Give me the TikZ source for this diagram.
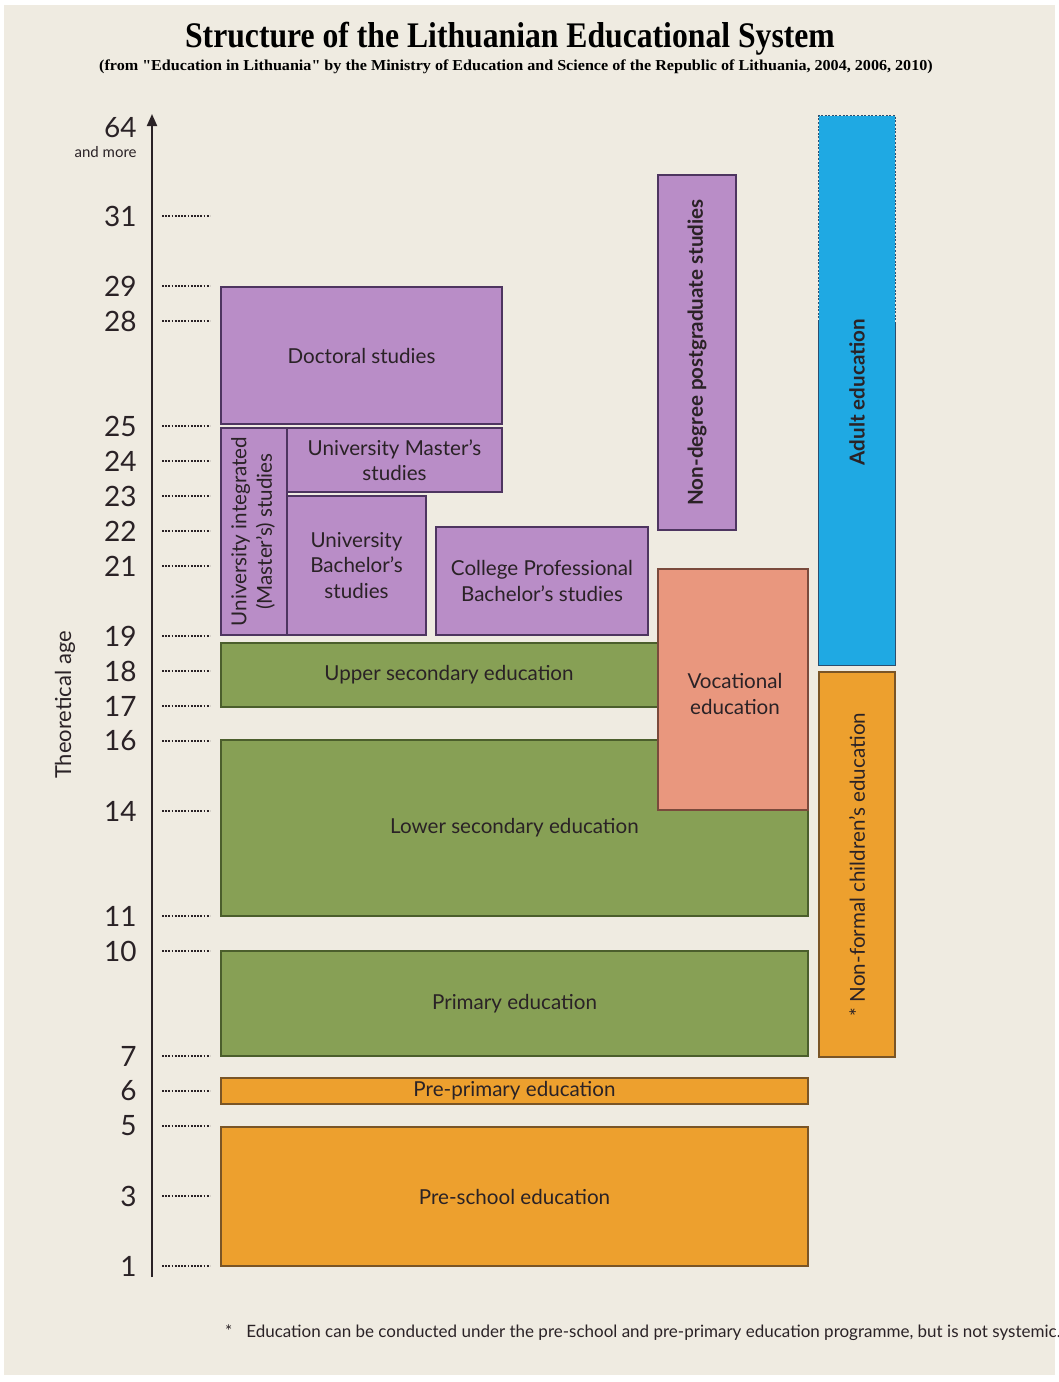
\documentclass[tikz,border=0pt]{standalone}
\usepackage{fontspec}
\usepackage{graphicx}
\setmainfont{Lato}
\newfontfamily\titlefont{Liberation Serif}
\usetikzlibrary{arrows.meta}

\definecolor{bgbeige}{HTML}{EFEBE1}
\definecolor{purp}{HTML}{B98DC7}
\definecolor{purpdark}{HTML}{4E3560}
\definecolor{grn}{HTML}{87A055}
\definecolor{grndark}{HTML}{4B5E2C}
\definecolor{salm}{HTML}{E9977E}
\definecolor{salmdark}{HTML}{7A4A3C}
\definecolor{orng}{HTML}{EDA02E}
\definecolor{orngdark}{HTML}{7A5526}
\definecolor{sky}{HTML}{1FA9E3}
\definecolor{skydark}{HTML}{2C4E6E}
\definecolor{ink}{HTML}{2A2226}

\tikzset{
  box/.style={draw, line width=0.8pt, inner sep=0pt, align=center,
    font=\fontsize{10.3}{12.7}\selectfont, text=ink},
  purpbox/.style={box, fill=purp, draw=purpdark},
  grnbox/.style={box, fill=grn, draw=grndark},
  salmbox/.style={box, fill=salm, draw=salmdark},
  orngbox/.style={box, fill=orng, draw=orngdark},
  agelbl/.style={anchor=east, inner sep=0pt, text=ink, font=\fontsize{14}{14}\selectfont},
  tick/.style={ink, line width=0.6pt, dash pattern=on 0.9pt off 0.7pt},
}

\begin{document}
\begin{tikzpicture}[x=0.5pt,y=-0.5pt]
\useasboundingbox (0,0) rectangle (1059,1382);
\fill[bgbeige] (4,5) rectangle (1055,1375);

% title
\node[font=\titlefont\bfseries\fontsize{18}{21}\selectfont, text=black] (title) at (510,39)
  {\scalebox{0.88}[1]{Structure of the Lithuanian Educational System}};
\node[font=\titlefont\bfseries\fontsize{7.6}{9}\selectfont, text=black] (subtitle) at (516,67)
  {\scalebox{1.06}[1]{(from "Education in Lithuania" by the Ministry of Education and Science of the Republic of Lithuania, 2004, 2006, 2010)}};

% age axis
\coordinate (axbot) at (152,1277);
\coordinate (axtop) at (152,114);
\draw[ink, line width=1pt, -{Triangle[length=6pt,width=5pt]}] (axbot) -- (axtop);
\node[agelbl] (age64) at (137,128) {64};
\node[anchor=east, inner sep=0pt, text=ink, font=\fontsize{7.5}{7.5}\selectfont] (andmore) at (137,152) {and more};
\foreach \a in {31,29,28,25,24,23,22,21,19,18,17,16,14,11,10,7,6,5,3,1} {
  \pgfmathsetmacro{\yy}{1266-35*(\a-1)}
  \node[agelbl] (age\a) at (137,\yy) {\a};
  \draw[tick] (162,\yy) -- (210,\yy);
}
\node[rotate=90, text=ink, font=\fontsize{11}{12}\selectfont] (theor) at (65,705) {Theoretical age};

% higher education
\node[purpbox, minimum width=140.5pt, minimum height=68.5pt] (doc) at (361.5,355.5) {Doctoral studies};
\node[purpbox, minimum width=33pt, minimum height=103.5pt] (integ) at (254,531.5)
  {\rotatebox{90}{\begin{tabular}{@{}c@{}}University integrated\\(Master's) studies\end{tabular}}};
\node[purpbox, minimum width=107.5pt, minimum height=32pt] (mast) at (394.5,460) {University Master's\\studies};
\node[purpbox, minimum width=69.5pt, minimum height=69.5pt] (bach) at (356.5,565.5) {University\\Bachelor's\\studies};
\node[purpbox, minimum width=106pt, minimum height=54pt] (coll) at (542,581) {College Professional\\Bachelor's studies};
\node[purpbox, minimum width=39pt, minimum height=177.5pt] (nondeg) at (697,352.5)
  {\rotatebox{90}{\bfseries Non-degree postgraduate studies}};

% general education
\node[grnbox, minimum width=228pt, minimum height=32pt] (upsec) at (449,675) {Upper secondary education};
\node[grnbox, minimum width=293.5pt, minimum height=88pt] (lowsec) at (514.5,828) {Lower secondary education};
\node[salmbox, minimum width=75pt, minimum height=120.5pt] (voc) at (733,689.5) {};
\node[text=ink, align=center, font=\fontsize{10.3}{12.7}\selectfont] (voclbl) at (735,694) {Vocational\\education};
\node[grnbox, minimum width=293.5pt, minimum height=52.5pt] (prim) at (514.5,1003.5) {Primary education};
\node[orngbox, minimum width=293.5pt, minimum height=13pt] (prepri) at (514.5,1091) {Pre-primary education};
\node[orngbox, minimum width=293.5pt, minimum height=69.5pt] (presch) at (514.5,1196.5) {Pre-school education};

% adult and non-formal
\node[fill=sky, minimum width=38pt, minimum height=274.5pt, inner sep=0pt] (adult) at (857,390.5) {};
\coordinate (dotend) at (857,322);
\draw[skydark, line width=0.8pt, dash pattern=on 1pt off 0.8pt]
  (adult.west |- dotend) -- (adult.north west) -- (adult.north east) -- (adult.east |- dotend);
\draw[skydark, line width=0.8pt]
  (adult.west |- dotend) -- (adult.south west) -- (adult.south east) -- (adult.east |- dotend);
\node[rotate=90, text=ink, font=\bfseries\fontsize{10.3}{12}\selectfont] (adultlbl) at (857,392) {Adult education};
\node[orngbox, minimum width=38pt, minimum height=192.5pt] (nonform) at (857,864.5)
  {\rotatebox{90}{* Non-formal children's education}};

% footnote
\node[anchor=west, text=ink, font=\fontsize{8.5}{10}\selectfont] (foot) at (218,1333)
  {*\hspace{7pt}Education can be conducted under the pre-school and pre-primary education programme, but is not systemic.};
\end{tikzpicture}
\end{document}
